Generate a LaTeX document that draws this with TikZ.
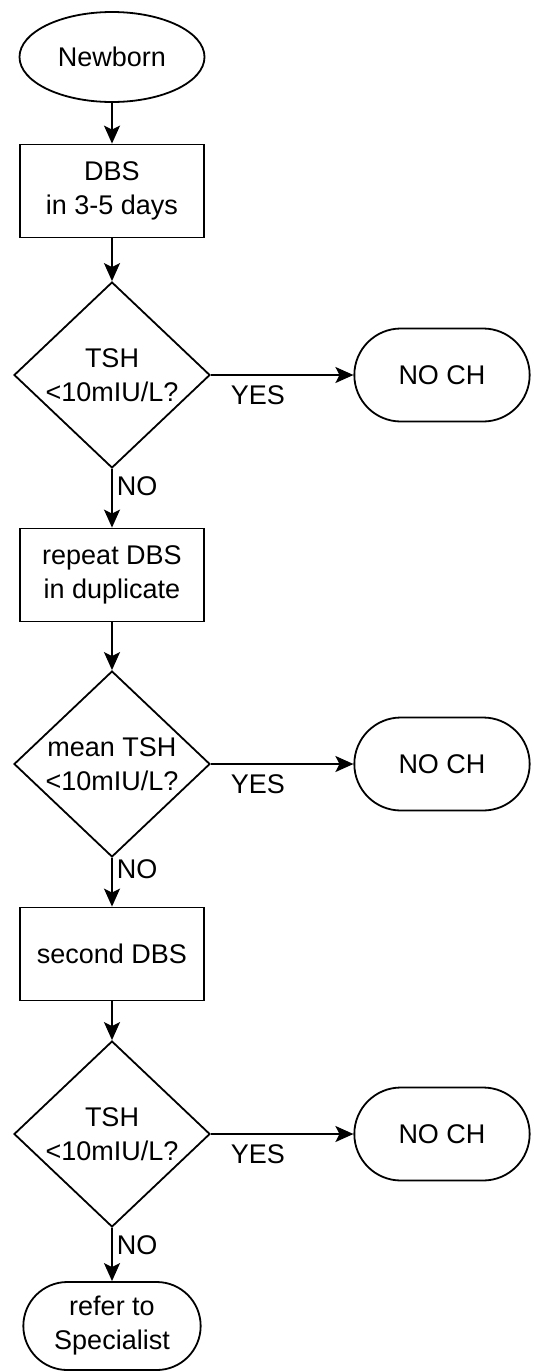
\documentclass[tikz,border=0pt]{standalone}
\usepackage{fontspec}
\setmainfont{Liberation Sans}
\usetikzlibrary{shapes.geometric, shapes.misc, arrows.meta}

\begin{document}
\begin{tikzpicture}[
    x=1pt, y=-1pt,
    line width=1.8pt,
    >={Stealth[length=18pt, width=16pt, inset=4pt]},
    every node/.style={font=\fontsize{27}{34}\selectfont, align=center},
    startstop/.style={ellipse, minimum width=185pt, minimum height=90pt, draw=black},
    process/.style={rectangle, minimum width=184pt, minimum height=93pt, draw=black},
    decision/.style={diamond, minimum width=196pt, minimum height=182pt, inner sep=0pt, draw=black},
    terminal/.style={rounded rectangle, minimum width=182pt, minimum height=93pt, draw=black},
    yeslabel/.style={below, pos=0.33, inner sep=10pt},
    nolabel/.style={right, pos=0.3, inner sep=4pt}
]
    \useasboundingbox (0,0) rectangle (534,1371);

    \node[startstop] at (112,57) (newborn) {Newborn};
    \node[process] at (112,191) (dbs) {DBS\\in 3-5 days};
    \node[decision] at (112,375) (tsh) {TSH\\<10mIU/L?};
    \node[terminal] at (442,375) (noch) {NO CH};

    \node[process] at (112,575) (repeat) {repeat DBS\\in duplicate};
    \node[decision] at (112,764) (meantsh) {mean TSH\\<10mIU/L?};
    \node[terminal] at (442,764) (nochtwo) {NO CH};

    \node[process] at (112,954) (second) {second DBS};
    \node[decision] at (112,1134) (tshtwo) {TSH\\<10mIU/L?};
    \node[terminal] at (442,1134) (nochthree) {NO CH};
    \node[terminal, minimum width=184pt, minimum height=88pt] at (112,1326) (refer) {refer to\\Specialist};

    \draw[->] (newborn) -- (dbs);
    \draw[->] (dbs) -- (tsh);
    \draw[->] (tsh) -- node[yeslabel] (yesone) {YES} (noch);
    \draw[->] (tsh) -- node[nolabel] (noone) {NO} (repeat);

    \draw[->] (repeat) -- (meantsh);
    \draw[->] (meantsh) -- node[yeslabel] (yestwo) {YES} (nochtwo);
    \draw[->] (meantsh) -- node[nolabel, pos=0.24] (notwo) {NO} (second);

    \draw[->] (second) -- (tshtwo);
    \draw[->] (tshtwo) -- node[yeslabel] (yesthree) {YES} (nochthree);
    \draw[->] (tshtwo) -- node[nolabel, pos=0.33] (nothree) {NO} (refer);
\end{tikzpicture}
\end{document}
